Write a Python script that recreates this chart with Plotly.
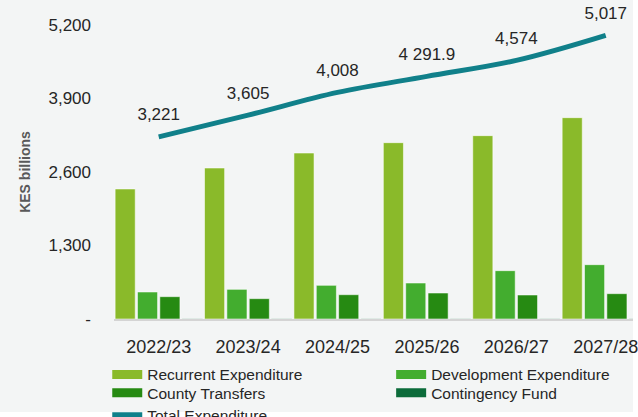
import plotly.graph_objects as go

years = ["2022/23", "2023/24", "2024/25", "2025/26", "2026/27", "2027/28"]
recurrent = [2300, 2671, 2936, 3119, 3243, 3561]
development = [478, 525, 596, 637, 855, 961]
county = [395, 360, 430, 460, 425, 448]
contingency = [5, 5, 5, 5, 5, 5]
total = [3221, 3605, 4008, 4291.9, 4574, 5017]
total_labels = ["3,221", "3,605", "4,008", "4 291.9", "4,574", "5,017"]

bar_series = [
    ("Recurrent Expenditure", recurrent, "#8aba2a", "legend"),
    ("Development Expenditure", development, "#43ad2f", "legend2"),
    ("County Transfers", county, "#268a12", "legend3"),
    ("Contingency Fund", contingency, "#0b6b3a", "legend4"),
]
LINE_COLOR = "#10808a"
BG = "#f3f5f5"
FONT = "Liberation Sans"
TEXT = "#262626"

fig = go.Figure()

for name, values, color, _ in bar_series:
    fig.add_trace(go.Bar(
        x=years,
        y=values,
        name=name,
        marker_color=color,
        marker_line=dict(color="rgba(255,255,255,0.55)", width=1),
        showlegend=False
    ))

# legend entries drawn as wide bands, like the source legend
for name, values, color, leg in bar_series:
    fig.add_trace(go.Scatter(
        x=[None], y=[None],
        mode="lines",
        name=name,
        line=dict(color=color, width=9),
        legend=leg
    ))

fig.add_trace(go.Scatter(
    x=years,
    y=total,
    name="Total Expenditure",
    mode="lines+markers+text",
    line=dict(color=LINE_COLOR, width=5, shape="spline"),
    marker=dict(size=18, color="rgba(0,0,0,0)"),
    text=total_labels,
    textposition="top center",
    textfont=dict(size=17, color=TEXT),
    cliponaxis=False,
    legend="legend5"
))

def legend_at(x, y):
    return dict(
        orientation="h", x=x, xanchor="left", y=y, yanchor="middle",
        font=dict(size=15.5, color=TEXT), bgcolor="rgba(0,0,0,0)"
    )

col1, col2 = -0.013, 0.534
fig.update_layout(
    width=638,
    height=417,
    margin=dict(l=114, r=5, t=25, b=98, autoexpand=False),
    paper_bgcolor="white",
    plot_bgcolor=BG,
    font=dict(family=FONT, color=TEXT),
    barmode="group",
    bargap=0,
    bargroupgap=0.1,
    legend=legend_at(col1, -0.19),
    legend2=legend_at(col2, -0.19),
    legend3=legend_at(col1, -0.252),
    legend4=legend_at(col2, -0.252),
    legend5=legend_at(col1, -0.327),
    shapes=[
        # grey card behind the chart, ending a few pixels short of the edges
        dict(type="rect", xref="paper", yref="paper", x0=-0.3, x1=1.0, y0=-0.316, y1=1.2,
             fillcolor=BG, line_width=0, layer="below"),
    ]
)

fig.update_xaxes(
    type="category",
    range=[-0.5, 5.305],
    showline=True,
    linecolor="#d4d4d4",
    linewidth=2,
    showgrid=False,
    ticks="",
    ticklabelstandoff=10,
    tickfont=dict(size=18, color=TEXT)
)

fig.update_yaxes(
    range=[0, 5200],
    tickvals=[0, 1300, 2600, 3900, 5200],
    ticktext=["-", "1,300", "2,600", "3,900", "5,200"],
    showgrid=False,
    zeroline=False,
    showline=False,
    ticks="",
    ticklabelstandoff=22,
    tickfont=dict(size=17, color=TEXT),
    title=dict(text="<b>KES billions</b>", font=dict(size=14, color="#595959"), standoff=14)
)

fig.write_html(
    "out.html",
    config={"displayModeBar": False},
    post_script="document.body.style.margin='0';"
)
